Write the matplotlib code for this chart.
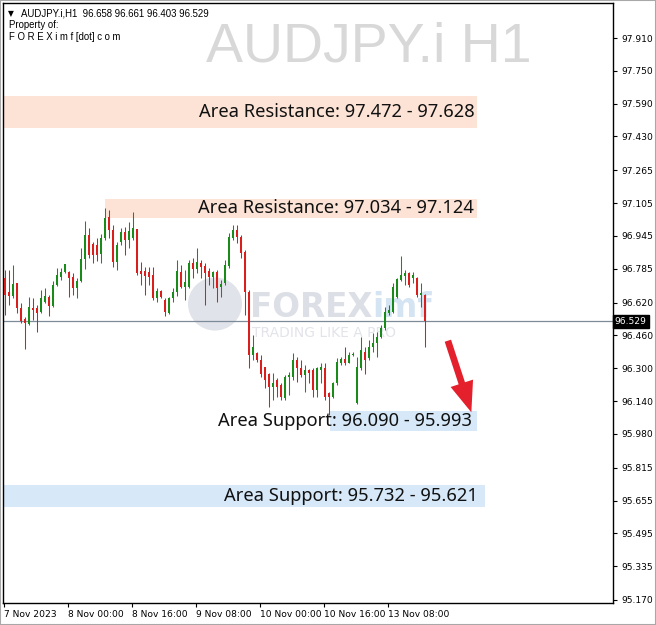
import matplotlib
matplotlib.use("Agg")
import matplotlib.pyplot as plt
from matplotlib.patches import Rectangle, FancyArrowPatch, Circle
import matplotlib.transforms as mtransforms

# ---------------- data (AUDJPY.i H1 candles) ----------------
opens = [96.740, 96.672, 96.652, 96.716, 96.594, 96.540, 96.516, 96.594, 96.594, 96.574,
         96.623, 96.647, 96.603, 96.706, 96.745, 96.769, 96.769, 96.745, 96.691, 96.725,
         96.832, 96.949, 96.906, 96.901, 96.857, 96.935, 97.037, 96.974, 96.818, 96.915,
         96.964, 96.925, 96.935, 96.979, 96.774, 96.774, 96.769, 96.754, 96.642, 96.677,
         96.633, 96.569, 96.642, 96.672, 96.769, 96.696, 96.696, 96.813, 96.784, 96.813,
         96.798, 96.774, 96.745, 96.769, 96.696, 96.716, 96.798, 96.935, 96.974, 96.940,
         96.866, 96.672, 96.365, 96.374, 96.340, 96.306, 96.272, 96.209, 96.243, 96.218,
         96.155, 96.257, 96.257, 96.340, 96.301, 96.267, 96.291, 96.291, 96.194, 96.291,
         96.301, 96.179, 96.160, 96.228, 96.326, 96.345, 96.326, 96.365, 96.131, 96.301,
         96.379, 96.350, 96.404, 96.423, 96.452, 96.496, 96.569, 96.574, 96.647, 96.730,
         96.750, 96.764, 96.740, 96.740, 96.657, 96.658]
highs = [96.779, 96.779, 96.803, 96.716, 96.618, 96.550, 96.647, 96.642, 96.608, 96.681,
         96.691, 96.657, 96.725, 96.789, 96.789, 96.808, 96.774, 96.764, 96.740, 96.886,
         97.018, 96.983, 96.915, 96.935, 96.954, 97.081, 97.071, 96.998, 96.915, 96.983,
         96.988, 97.013, 97.062, 96.979, 96.818, 96.793, 96.793, 96.793, 96.691, 96.681,
         96.642, 96.647, 96.691, 96.828, 96.803, 96.779, 96.828, 96.837, 96.886, 96.828,
         96.813, 96.789, 96.774, 96.779, 96.730, 96.828, 96.959, 96.998, 96.998, 96.949,
         96.876, 96.681, 96.462, 96.379, 96.365, 96.306, 96.277, 96.277, 96.252, 96.228,
         96.267, 96.282, 96.374, 96.355, 96.340, 96.316, 96.296, 96.301, 96.306, 96.326,
         96.326, 96.184, 96.233, 96.350, 96.355, 96.404, 96.379, 96.379, 96.355, 96.452,
         96.404, 96.438, 96.472, 96.477, 96.511, 96.599, 96.608, 96.716, 96.740, 96.847,
         96.779, 96.769, 96.769, 96.745, 96.716, 96.661]
lows = [96.560, 96.608, 96.642, 96.569, 96.521, 96.394, 96.511, 96.535, 96.477, 96.569,
        96.618, 96.555, 96.599, 96.701, 96.730, 96.764, 96.647, 96.657, 96.642, 96.720,
        96.784, 96.837, 96.813, 96.823, 96.813, 96.925, 96.935, 96.793, 96.779, 96.901,
        96.852, 96.886, 96.925, 96.754, 96.706, 96.657, 96.706, 96.633, 96.623, 96.642,
        96.555, 96.564, 96.623, 96.652, 96.691, 96.633, 96.691, 96.740, 96.764, 96.740,
        96.608, 96.706, 96.691, 96.623, 96.647, 96.706, 96.789, 96.925, 96.910, 96.837,
        96.560, 96.301, 96.340, 96.330, 96.257, 96.204, 96.111, 96.145, 96.160, 96.145,
        96.145, 96.170, 96.243, 96.233, 96.257, 96.184, 96.228, 96.160, 96.160, 96.228,
        96.145, 96.072, 96.155, 96.218, 96.316, 96.316, 96.326, 96.360, 96.126, 96.291,
        96.272, 96.340, 96.379, 96.355, 96.447, 96.486, 96.560, 96.569, 96.642, 96.725,
        96.706, 96.696, 96.716, 96.647, 96.599, 96.403]
closes = [96.657, 96.652, 96.711, 96.594, 96.530, 96.521, 96.599, 96.584, 96.569, 96.642,
          96.652, 96.603, 96.706, 96.754, 96.769, 96.808, 96.740, 96.691, 96.725, 96.832,
          96.949, 96.852, 96.852, 96.852, 96.935, 97.032, 96.974, 96.818, 96.901, 96.964,
          96.925, 96.969, 96.983, 96.764, 96.759, 96.750, 96.745, 96.642, 96.677, 96.647,
          96.574, 96.642, 96.672, 96.774, 96.696, 96.720, 96.813, 96.784, 96.818, 96.793,
          96.764, 96.745, 96.769, 96.691, 96.711, 96.803, 96.940, 96.974, 96.940, 96.862,
          96.672, 96.365, 96.404, 96.340, 96.272, 96.243, 96.209, 96.228, 96.209, 96.160,
          96.257, 96.267, 96.340, 96.301, 96.267, 96.291, 96.277, 96.194, 96.301, 96.306,
          96.160, 96.160, 96.228, 96.330, 96.345, 96.326, 96.365, 96.369, 96.306, 96.389,
          96.340, 96.404, 96.423, 96.452, 96.496, 96.574, 96.584, 96.696, 96.735, 96.754,
          96.764, 96.706, 96.754, 96.657, 96.667, 96.529]

xtick_labels = ["7 Nov 2023", "8 Nov 00:00", "8 Nov 16:00", "9 Nov 08:00",
                "10 Nov 00:00", "10 Nov 16:00", "13 Nov 08:00"]
xtick_bars = [0, 16, 32, 48, 64, 80, 96]
ytick_values = [97.910, 97.750, 97.590, 97.430, 97.265, 97.105, 96.945, 96.785, 96.620,
                96.460, 96.300, 96.140, 95.980, 95.815, 95.655, 95.495, 95.335, 95.170]

zone_names = ["Area Resistance", "Area Resistance", "Area Support", "Area Support"]
zone_first = [97.472, 97.034, 96.090, 95.732]
zone_second = [97.628, 97.124, 95.993, 95.621]

last_price = 96.529
header_ohlc = [96.658, 96.661, 96.403, 96.529]

# ---------------- figure ----------------
W, H = 656, 625
fig = plt.figure(figsize=(W / 100, H / 100), dpi=100)
fig.patch.set_facecolor("white")
AX_L, AX_R, AX_T, AX_B = 3, 613, 3, 603
ax = fig.add_axes([AX_L / W, (H - AX_B) / H, (AX_R - AX_L) / W, (AX_B - AX_T) / H])
ax.set_facecolor("white")
ax.set_xlim(-0.5, 152)
ax.set_ylim(95.1553, 98.0807)
renderer = fig.canvas.get_renderer()

def px(xp, yp):
    """pixel -> axes fraction"""
    return (xp - AX_L) / (AX_R - AX_L), (AX_B - yp) / (AX_B - AX_T)

# big watermark symbol text
x0, y0 = px(532, 62)
ax.text(x0, y0, "AUDJPY.i H1", transform=ax.transAxes, ha="right", va="baseline",
        fontsize=40, color="#d8d8d8", family="Liberation Sans", zorder=0.2)

# logo watermark
cx, cy = px(215, 304)
circ = Circle((cx, cy), 27 / (AX_R - AX_L), transform=ax.transAxes,
              facecolor="#e1e3ea", edgecolor="none", zorder=0.3)
ax.add_patch(circ)
x1, y1 = px(250, 317)
t_forex = ax.text(x1, y1, "FOREX", transform=ax.transAxes, ha="left", va="baseline",
                  fontsize=23.5, weight="bold", color="#dcdfe6", family="DejaVu Sans", zorder=0.3)
bb = t_forex.get_window_extent(renderer=renderer)
x_imf = (bb.x1 - AX_L) / (AX_R - AX_L)
ax.text(x_imf, y1, "imf", transform=ax.transAxes, ha="left", va="baseline",
        fontsize=23.5, weight="bold", color="#d4e4f2", family="DejaVu Sans", zorder=0.3)
x1, y1 = px(252, 337)
ax.text(x1, y1, "TRADING LIKE A PRO", transform=ax.transAxes, ha="left", va="baseline",
        fontsize=10, color="#e2e4ea", family="DejaVu Sans", zorder=0.3)

# zones
res_color = "#fce3d6"
sup_color = "#d7e8f8"
zone_x0 = [-0.5, 25.0, 81.2, -0.5]
zone_x1 = [118.0, 118.0, 118.0, 120.0]
zone_tx = [117.3, 117.3, 116.8, 118.3]
for name, a, b, xa, xb, tx in zip(zone_names, zone_first, zone_second, zone_x0, zone_x1, zone_tx):
    lo, hi = min(a, b), max(a, b)
    col = res_color if "Resistance" in name else sup_color
    ax.add_patch(Rectangle((xa, lo), xb - xa, hi - lo, facecolor=col, edgecolor="none", zorder=0.5))
    ax.text(tx, (lo + hi) / 2, f"{name}: {a:.3f} - {b:.3f}", ha="right", va="center",
            fontsize=13.2, color="#111111", family="Noto Sans", zorder=5)

# current price line
ax.axhline(last_price, color="#7d8b99", lw=0.9, zorder=1)

# candles
green = "#1a8a1a"
red = "#d91e1e"
for i, (o, h, l, c) in enumerate(zip(opens, highs, lows, closes)):
    col = green if c >= o else red
    ax.vlines(i, l, h, color=col, lw=0.75, zorder=2)
    bot = min(o, c)
    ht = max(abs(c - o), 0.004)
    ax.bar(i, ht, bottom=bot, width=0.74, color=col, linewidth=0, zorder=3)

# arrow
arrow = FancyArrowPatch((110.5, 96.447), (116.8, 96.072),
                        arrowstyle="simple,head_length=1.1,head_width=0.85,tail_width=0.24",
                        mutation_scale=20, color="#e3202c", lw=0, zorder=6)
ax.add_patch(arrow)

# axes styling
for s in ax.spines.values():
    s.set_color("black")
    s.set_linewidth(1.0)
ax.yaxis.tick_right()
ax.set_yticks(ytick_values)
ax.set_yticklabels([f"{v:.3f}" for v in ytick_values])
ax.tick_params(axis="y", direction="out", length=3, width=0.8, pad=3,
               labelsize=6.6, colors="black", right=True, left=False)
for lab in ax.get_yticklabels():
    lab.set_family("DejaVu Sans")
ax.set_xticks([b - 0.3 for b in xtick_bars])
ax.set_xticklabels(xtick_labels)
ax.tick_params(axis="x", direction="out", length=3, width=0.8, pad=2,
               labelsize=6.6, colors="black")
for lab in ax.get_xticklabels():
    lab.set_horizontalalignment("left")
    lab.set_family("DejaVu Sans")

# current price label box
trans = mtransforms.blended_transform_factory(ax.transAxes, ax.transData)
ax.text(1.003, last_price, f"{last_price:.3f}", transform=trans, ha="left", va="center",
        fontsize=6.6, color="white", family="DejaVu Sans",
        bbox=dict(boxstyle="square,pad=0.2", facecolor="black", edgecolor="black"),
        zorder=10, clip_on=False)

# header texts
fig.text(8 / W, 1 - 16 / H, "\u25BC", fontsize=5.5, color="black", va="baseline", family="DejaVu Sans")
fig.text(21 / W, 1 - 16.5 / H,
         "AUDJPY.i,H1  " + " ".join(f"{v:.3f}" for v in header_ohlc),
         fontsize=6.9, color="black", va="baseline", family="Liberation Sans")
fig.text(9 / W, 1 - 28 / H, "Property of:", fontsize=6.9, color="black", va="baseline",
         family="Liberation Sans")
fig.text(9 / W, 1 - 39.5 / H, "F O R E X i m f [dot] c o m", fontsize=6.9, color="black",
         va="baseline", family="Liberation Sans")

# outer window frame
fig.patches.append(Rectangle((0, 0), 1, 1, transform=fig.transFigure, fill=False,
                             edgecolor="#a8a8a8", lw=1.5))

fig.savefig("out.png", dpi=100)
